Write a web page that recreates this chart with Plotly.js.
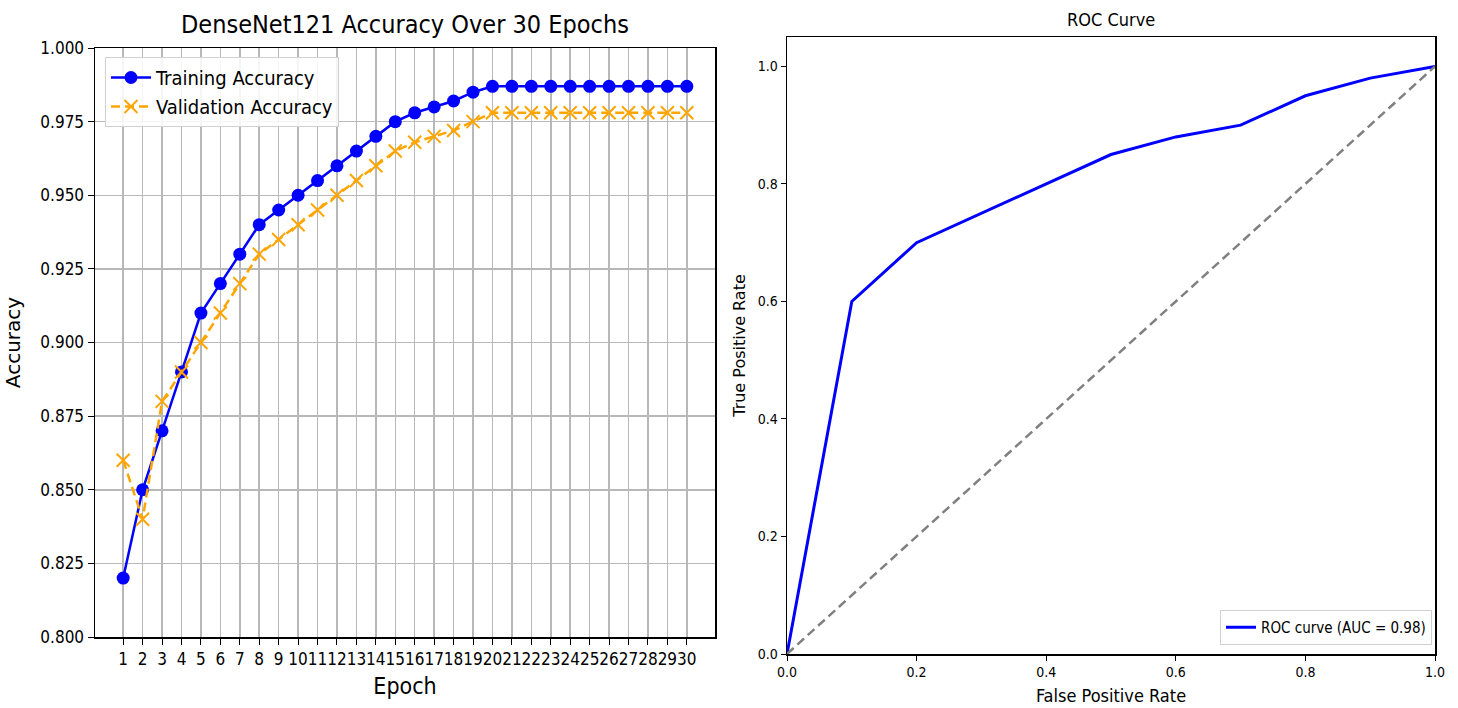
<!DOCTYPE html>
<html>
<head>
<meta charset="utf-8">
<script src="https://cdn.plot.ly/plotly-3.0.1.min.js"></script>
<style>html,body{margin:0;padding:0;background:#fff;}#chart{width:1458px;height:708px;}</style>
</head>
<body>
<div id="chart"></div>
<script>
// ---- data ----
const epochs = [1,2,3,4,5,6,7,8,9,10,11,12,13,14,15,16,17,18,19,20,21,22,23,24,25,26,27,28,29,30];
const trainingAccuracy = [0.82,0.85,0.87,0.89,0.91,0.92,0.93,0.94,0.945,0.95,0.955,0.96,0.965,0.97,0.975,0.978,0.98,0.982,0.985,0.987,0.987,0.987,0.987,0.987,0.987,0.987,0.987,0.987,0.987,0.987];
const validationAccuracy = [0.86,0.84,0.88,0.89,0.90,0.91,0.92,0.93,0.935,0.94,0.945,0.95,0.955,0.96,0.965,0.968,0.97,0.972,0.975,0.978,0.978,0.978,0.978,0.978,0.978,0.978,0.978,0.978,0.978,0.978];
const accTicks = [0.800,0.825,0.850,0.875,0.900,0.925,0.950,0.975,1.000];
const fpr = [0,0.1,0.2,0.3,0.4,0.5,0.6,0.7,0.8,0.9,1.0];
const tpr = [0,0.6,0.7,0.75,0.8,0.85,0.88,0.9,0.95,0.98,1.0];
const chanceX = [0,1];
const chanceY = [0,1];
const rocTicks = [0,0.2,0.4,0.6,0.8,1.0];
const aucLabel = 'ROC curve (AUC = 0.98)';

const narrow = '"DejaVu Sans Condensed", "Liberation Sans Narrow", "DejaVu Sans", sans-serif';
const wide = '"DejaVu Sans", sans-serif';

const traces = [
  {x: epochs, y: trainingAccuracy, name: 'Training Accuracy', mode: 'lines+markers', xaxis: 'x', yaxis: 'y',
   line: {color: '#0000ff', width: 2.5}, marker: {color: '#0000ff', size: 13, symbol: 'circle'}, legend: 'legend'},
  {x: epochs, y: validationAccuracy, name: 'Validation Accuracy', mode: 'lines+markers', xaxis: 'x', yaxis: 'y',
   line: {color: '#ffa500', width: 2.5, dash: '9px,5px'}, marker: {color: '#ffa500', size: 13, symbol: 'x-thin-open', line: {color: '#ffa500', width: 2}}, legend: 'legend'},
  {x: fpr, y: tpr, name: aucLabel, mode: 'lines', xaxis: 'x2', yaxis: 'y2',
   line: {color: '#0000ff', width: 3}, legend: 'legend2'},
  {x: chanceX, y: chanceY, name: 'chance', mode: 'lines', xaxis: 'x2', yaxis: 'y2', showlegend: false,
   line: {color: '#808080', width: 2.5, dash: '9px,5px'}}
];

const layout = {
  width: 1458, height: 708,
  margin: {l: 0, r: 0, t: 0, b: 0},
  paper_bgcolor: '#ffffff', plot_bgcolor: '#ffffff',
  showlegend: true,
  xaxis: {
    domain: [95/1458, 715/1458], range: [-0.45, 31.45],
    tickvals: epochs, ticktext: epochs.map(String), tickangle: 0,
    tickfont: {family: narrow, size: 17, color: '#000'},
    ticks: 'outside', ticklen: 6, tickcolor: '#000',
    showgrid: true, gridcolor: '#b8b8b8', gridwidth: 1.5,
    showline: true, linecolor: '#000', linewidth: 1.5, mirror: true, zeroline: false,
    title: {text: 'Epoch', font: {family: narrow, size: 23, color: '#000'}, standoff: 10}
  },
  yaxis: {
    domain: [71/708, 660/708], range: [0.8, 1.0],
    tickvals: accTicks, ticktext: accTicks.map(v => v.toFixed(3)),
    tickfont: {family: narrow, size: 17, color: '#000'},
    ticks: 'outside', ticklen: 6, tickcolor: '#000',
    showgrid: true, gridcolor: '#b8b8b8', gridwidth: 1.5,
    showline: true, linecolor: '#000', linewidth: 1.5, mirror: true, zeroline: false,
    title: {text: 'Accuracy', font: {family: wide, size: 20, color: '#000'}, standoff: 14}
  },
  xaxis2: {
    domain: [787/1458, 1435/1458], range: [0, 1], anchor: 'y2',
    tickvals: rocTicks, ticktext: rocTicks.map(v => v.toFixed(1)), tickangle: 0,
    tickfont: {family: narrow, size: 14, color: '#000'},
    ticks: 'outside', ticklen: 5, tickcolor: '#000',
    showgrid: false, showline: true, linecolor: '#000', linewidth: 1.5, mirror: true, zeroline: false,
    title: {text: 'False Positive Rate', font: {family: narrow, size: 18, color: '#000'}, standoff: 10}
  },
  yaxis2: {
    domain: [54/708, 671/708], range: [0, 1.05], anchor: 'x2',
    tickvals: rocTicks, ticktext: rocTicks.map(v => v.toFixed(1)),
    tickfont: {family: narrow, size: 14, color: '#000'},
    ticks: 'outside', ticklen: 5, tickcolor: '#000',
    showgrid: false, showline: true, linecolor: '#000', linewidth: 1.5, mirror: true, zeroline: false,
    title: {text: 'True Positive Rate', font: {family: wide, size: 16, color: '#000'}, standoff: 8}
  },
  legend: {
    x: 105/1458, y: (708-57)/708, xanchor: 'left', yanchor: 'top',
    bgcolor: 'rgba(255,255,255,0.85)', bordercolor: '#d0d0d0', borderwidth: 1,
    font: {family: narrow, size: 20, color: '#000'}, tracegroupgap: 6, itemwidth: 40
  },
  legend2: {
    x: 1432/1458, y: (708-645)/708, xanchor: 'right', yanchor: 'bottom',
    bgcolor: 'rgba(255,255,255,0.85)', bordercolor: '#d0d0d0', borderwidth: 1,
    font: {family: narrow, size: 15, color: '#000'}, itemwidth: 30
  },
  annotations: [
    {text: 'DenseNet121 Accuracy Over 30 Epochs', xref: 'paper', yref: 'paper', x: 405/1458, y: (708-24)/708,
     xanchor: 'center', yanchor: 'middle', showarrow: false, font: {family: narrow, size: 25, color: '#000'}},
    {text: 'ROC Curve', xref: 'paper', yref: 'paper', x: 1111/1458, y: (708-19)/708,
     xanchor: 'center', yanchor: 'middle', showarrow: false, font: {family: narrow, size: 18, color: '#000'}}
  ]
};

Plotly.newPlot('chart', traces, layout, {displayModeBar: false, staticPlot: true});
</script>
</body>
</html>
